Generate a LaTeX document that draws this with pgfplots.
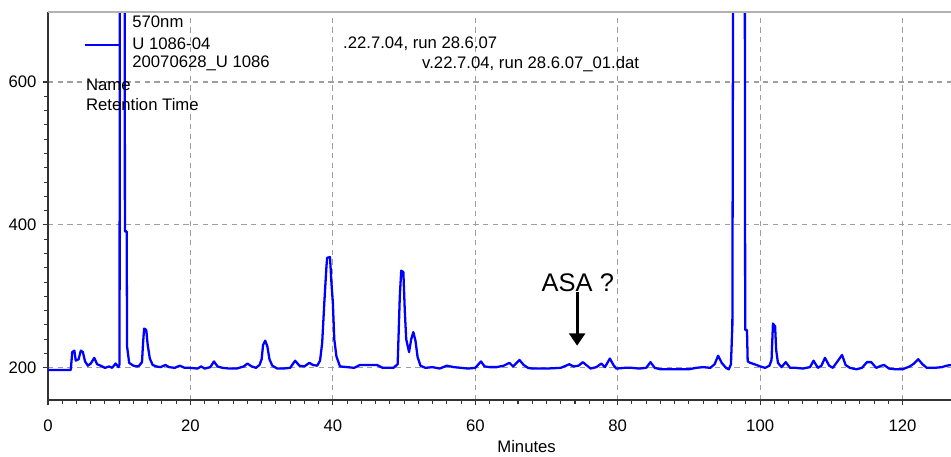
\documentclass[border=0pt]{standalone}
\usepackage{fontspec}
\setmainfont{Liberation Sans}
\usepackage{pgfplots}
\pgfplotsset{compat=1.18}
\usetikzlibrary{arrows.meta}

\pgfplotstableread{
x y
0 197
3.2 197
3.4 222
3.7 224
3.9 210
4.3 212
4.6 224
4.9 222
5.2 209
5.6 203
6.0 206
6.5 214
6.9 205
7.4 203
8.0 200
8.6 202
9.0 200
9.5 206
9.9 201
10.05 205
10.1 1200
10.75 1200
10.8 391
11.05 391
11.1 230
11.4 207
12.0 203
12.5 202
12.8 203
13.2 208
13.35 235
13.5 255
13.8 253
14.0 232
14.3 213
14.7 204
15.2 202
15.8 201
16.5 204
17.0 201
17.8 200
18.5 203
19.2 200
20.0 200
21.0 199
21.5 202
22.0 199
22.8 201
23.3 209
23.8 202
24.5 200
25.5 199
26.5 199
27.5 202
28.0 206
28.6 202
29.2 200
29.7 204
30.0 212
30.2 232
30.5 238
30.8 230
31.1 212
31.5 203
32.2 199
33.0 199
34.0 200
34.7 210
35.3 203
36.0 202
36.7 207
37.2 204
37.8 203
38.2 210
38.5 235
38.8 291
39.1 342
39.2 354
39.6 355
39.8 319
40.0 291
40.2 240
40.5 216
41.0 202
42.0 201
43.0 200
43.8 204
45.0 204
46.2 204
47.0 200
48.5 200
49.1 205
49.4 300
49.6 336
49.9 334
50.1 280
50.3 240
50.7 222
51.0 240
51.3 250
51.6 238
51.9 215
52.3 203
53.0 200
54.0 201
55.0 199
56.0 203
57.0 201
58.0 200
59.0 199
60.0 200
60.8 209
61.3 202
62.0 201
63.0 201
64.0 203
64.8 207
65.3 202
66.2 211
66.8 204
67.4 200
68 199
70 199
72 200
73.2 205
73.8 202
74.5 203
75.1 208
75.7 203
76.2 199
77.0 201
77.7 206
78.2 201
78.9 213
79.4 204
79.8 199
81 200
82 200
83 199
84.0 200
84.6 208
85.2 200
86 198
88 198
90 198
91 200
92 201
93 200
93.6 205
94.1 217
94.6 207
95.2 200
95.6 198
95.9 205
96.1 260
96.3 1200
97.8 1200
97.9 253
98.15 253
98.25 209
98.6 207
99.5 204
100.0 202
100.7 200
101.3 203
101.6 211
101.8 262
102.1 258
102.25 225
102.5 207
103.0 201
103.6 208
104.2 200
105 200
106 199
107 201
107.5 210
108.1 200
108.6 203
109.1 214
109.7 203
110.2 200
111.0 211
111.5 218
112.0 204
112.6 200
113.5 198
114.3 200
115.0 208
115.6 208
116.3 200
117.0 203
117.4 204
118.1 199
119 198
120 198
121 202
121.6 206
122.2 212
122.8 205
123.4 200
124.5 200
125.5 201
126.2 203
126.8 204
}\trace

\begin{document}
\begin{tikzpicture}
\begin{axis}[
    scale only axis,
    width=18.06cm, height=7.76cm,
    xmin=0, xmax=126.8,
    ymin=155, ymax=698,
    clip mode=individual,
    axis x line*=bottom,
    axis y line*=left,
    axis line style={black!80, line width=1.1pt},
    xtick={0,20,...,120},
    ytick={200,400,600},
    minor x tick num=9,
    minor y tick num=9,
    tick align=outside,
    major tick length=3pt,
    minor tick length=2pt,
    tick style={black!80, line width=0.6pt},
    grid=major,
    grid style={gray!75, dashed, dash pattern=on 3pt off 2.5pt, line width=0.6pt},
    font=\fontsize{9.5}{11}\selectfont,
    /pgf/number format/assume math mode=true,
    /pgf/number format/1000 sep={},
    xticklabel style={anchor=center, inner sep=0pt, yshift=-0.4cm},
    yticklabel style={anchor=east, inner sep=0pt, xshift=-0.12cm},
]
\addplot[color=blue, line width=1.3pt, line join=round] table[x=x, y=y] {\trace};

\draw[gray!60, line width=1.5pt] (rel axis cs:0,1) -- (rel axis cs:1,1);
\draw[blue, line width=1.1pt] (axis cs:5.2,652) -- (axis cs:10.1,652);

\node[anchor=west, inner sep=0pt] at (axis cs:11.8,684) {570nm};
\node[anchor=west, inner sep=0pt] at (axis cs:11.8,653) {U 1086-04};
\node[anchor=west, inner sep=0pt] at (axis cs:11.8,626) {20070628\_U 1086};
\node[anchor=west, inner sep=0pt] at (axis cs:5.3,596) {Name};
\node[anchor=west, inner sep=0pt] at (axis cs:5.3,568) {Retention Time};
\node[anchor=west, inner sep=0pt] at (axis cs:41.4,653) {.22.7.04, run 28.6.07};
\node[anchor=west, inner sep=0pt] at (axis cs:52.5,625) {v.22.7.04, run 28.6.07\_01.dat};

\node[font=\fontsize{14.5}{16}\selectfont, inner sep=0pt] at (axis cs:74.4,319) {ASA ?};
\draw[black, line width=1.6pt, -{Triangle[width=9pt, length=7pt]}] (axis cs:74.3,306) -- (axis cs:74.3,231);

\node[inner sep=0pt] at (rel axis cs:0.53,0) [yshift=-0.94cm] {Minutes};

\coordinate (ll) at (rel axis cs:0,0);
\coordinate (ur) at (rel axis cs:1,1);
\end{axis}
\pgfresetboundingbox
\path ([xshift=-0.96cm, yshift=-1.12cm]ll) rectangle ([yshift=0.24cm]ur);
\end{tikzpicture}
\end{document}
